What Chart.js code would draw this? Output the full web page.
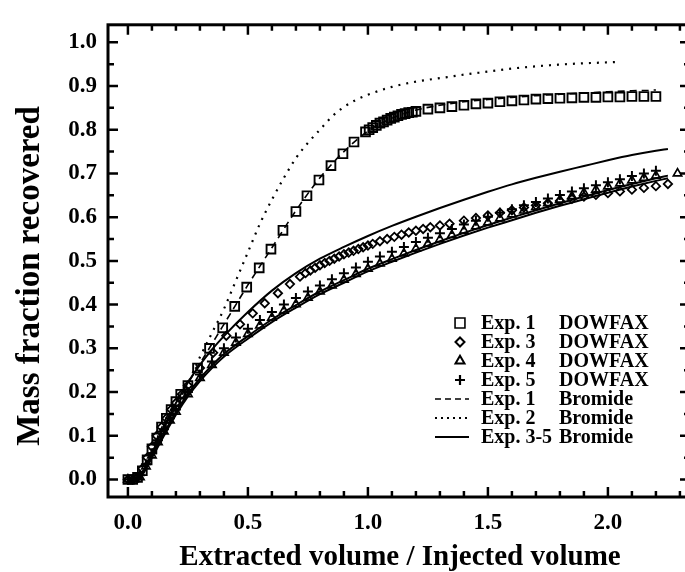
<!DOCTYPE html>
<html><head><meta charset="utf-8">
<script src="https://cdn.jsdelivr.net/npm/chart.js@4/dist/chart.umd.min.js"></script>
<style>
html,body{margin:0;padding:0;background:#fff;overflow:hidden;}
#wrap{position:relative;width:700px;height:572px;}
</style></head><body>
<div id="wrap"><canvas id="c" width="700" height="572"></canvas></div>
<script>
// ---- tick labels ----
const xTickValues = [0.0, 0.5, 1.0, 1.5, 2.0];
const yTickValues = [0.0, 0.1, 0.2, 0.3, 0.4, 0.5, 0.6, 0.7, 0.8, 0.9, 1.0];
const xTitle = 'Extracted volume / Injected volume';
const yTitle = 'Mass fraction recovered';

// ---- Bromide curves ----
const x2B = [0,0.05,0.1,0.15,0.2,0.25,0.3,0.35,0.4,0.45,0.5,0.55,0.6,0.65,0.7,0.75,0.8,0.85,0.9,0.95,1.0,1.1,1.2,1.3,1.4,1.5,1.6,1.7,1.8,1.9,2.0,2.05];
const y2B = [0,0.01,0.06,0.11,0.165,0.22,0.28,0.335,0.39,0.455,0.52,0.585,0.64,0.69,0.735,0.77,0.80,0.83,0.852,0.868,0.88,0.898,0.91,0.918,0.926,0.933,0.94,0.945,0.949,0.952,0.954,0.955];

const x1B = [0,0.05,0.1,0.15,0.2,0.25,0.3,0.35,0.4,0.45,0.5,0.6,0.7,0.8,0.9,1.0,1.1,1.2,1.3,1.4,1.5,1.6,1.7,1.8,1.9,2.0,2.1,2.2];
const y1B = [0,0.01,0.065,0.13,0.18,0.22,0.265,0.31,0.355,0.40,0.445,0.53,0.615,0.69,0.75,0.797,0.826,0.845,0.856,0.864,0.869,0.874,0.878,0.881,0.884,0.887,0.889,0.891];

const x35B = [0,0.05,0.1,0.15,0.2,0.25,0.3,0.35,0.4,0.5,0.6,0.7,0.8,0.9,1.0,1.1,1.2,1.3,1.4,1.5,1.6,1.7,1.8,1.9,2.0,2.1,2.2,2.25];
const y3B = [0,0.008,0.06,0.12,0.175,0.222,0.262,0.297,0.328,0.383,0.432,0.472,0.505,0.532,0.557,0.58,0.601,0.621,0.64,0.658,0.675,0.69,0.704,0.717,0.73,0.742,0.752,0.756];
const y4B = [0,0.005,0.05,0.1,0.148,0.19,0.225,0.255,0.281,0.322,0.36,0.393,0.424,0.45,0.476,0.498,0.519,0.539,0.558,0.576,0.593,0.61,0.626,0.641,0.656,0.67,0.683,0.689];
const y5B = [0,0.006,0.055,0.106,0.154,0.196,0.231,0.261,0.287,0.328,0.366,0.399,0.43,0.456,0.482,0.504,0.525,0.545,0.564,0.582,0.599,0.616,0.632,0.647,0.662,0.676,0.689,0.695];

// ---- DOWFAX measurements ----
const x1D = [0,0.02,0.04,0.06,0.08,0.1,0.12,0.14,0.16,0.18,0.2,0.22,0.25,0.29,0.34,0.395,0.445,0.495,0.547,0.596,0.646,0.7,0.746,0.796,0.846,0.896,0.942,0.99,1.005,1.02,1.035,1.05,1.065,1.08,1.095,1.11,1.125,1.14,1.155,1.17,1.185,1.2,1.25,1.3,1.35,1.4,1.45,1.5,1.55,1.6,1.65,1.7,1.75,1.8,1.85,1.9,1.95,2.0,2.05,2.1,2.15,2.2];
const y1D = [0,0,0.005,0.02,0.045,0.07,0.095,0.12,0.14,0.16,0.178,0.195,0.215,0.255,0.3,0.347,0.396,0.44,0.484,0.527,0.57,0.613,0.649,0.685,0.718,0.745,0.772,0.795,0.8,0.805,0.81,0.815,0.818,0.822,0.826,0.829,0.832,0.835,0.837,0.839,0.84,0.842,0.847,0.85,0.853,0.856,0.859,0.861,0.864,0.866,0.868,0.87,0.871,0.872,0.873,0.874,0.874,0.875,0.875,0.876,0.876,0.876];

const x3D = [0,0.02,0.04,0.06,0.08,0.1,0.12,0.14,0.16,0.18,0.2,0.225,0.25,0.3,0.355,0.41,0.467,0.52,0.57,0.625,0.675,0.717,0.74,0.76,0.78,0.8,0.82,0.84,0.86,0.88,0.9,0.92,0.94,0.96,0.98,1.0,1.02,1.05,1.08,1.11,1.14,1.17,1.2,1.23,1.26,1.3,1.34,1.4,1.45,1.5,1.55,1.6,1.65,1.7,1.75,1.8,1.85,1.9,1.95,2.0,2.05,2.1,2.15,2.2,2.25];
const y3D = [0,0,0.005,0.025,0.05,0.075,0.1,0.12,0.14,0.16,0.175,0.195,0.215,0.255,0.29,0.329,0.355,0.38,0.403,0.426,0.447,0.464,0.472,0.478,0.484,0.49,0.495,0.5,0.505,0.51,0.515,0.519,0.523,0.527,0.531,0.535,0.539,0.545,0.55,0.555,0.56,0.565,0.569,0.573,0.577,0.581,0.585,0.592,0.598,0.604,0.61,0.616,0.622,0.627,0.632,0.637,0.642,0.647,0.651,0.655,0.659,0.663,0.667,0.671,0.676];

const x4D = [0,0.025,0.05,0.075,0.1,0.125,0.15,0.175,0.2,0.25,0.3,0.35,0.4,0.45,0.5,0.55,0.6,0.65,0.7,0.75,0.8,0.85,0.9,0.95,1.0,1.05,1.1,1.15,1.2,1.25,1.3,1.35,1.4,1.45,1.5,1.55,1.6,1.65,1.7,1.75,1.8,1.85,1.9,1.95,2.0,2.05,2.1,2.15,2.2,2.29];
const y4D = [0,0,0.005,0.03,0.055,0.085,0.11,0.135,0.155,0.195,0.232,0.262,0.29,0.313,0.333,0.352,0.37,0.386,0.401,0.416,0.43,0.444,0.457,0.47,0.482,0.494,0.505,0.517,0.528,0.539,0.549,0.559,0.569,0.579,0.588,0.597,0.606,0.615,0.623,0.632,0.64,0.648,0.656,0.663,0.67,0.677,0.684,0.69,0.695,0.7];

const x5D = [0,0.025,0.05,0.075,0.1,0.125,0.15,0.175,0.2,0.25,0.3,0.35,0.4,0.45,0.5,0.55,0.6,0.65,0.7,0.75,0.8,0.85,0.9,0.95,1.0,1.05,1.1,1.15,1.2,1.25,1.3,1.35,1.4,1.45,1.5,1.55,1.6,1.65,1.7,1.75,1.8,1.85,1.9,1.95,2.0,2.05,2.1,2.15,2.2];
const y5D = [0,0,0.01,0.035,0.06,0.09,0.115,0.14,0.16,0.2,0.24,0.27,0.3,0.325,0.345,0.365,0.383,0.4,0.415,0.43,0.444,0.458,0.472,0.485,0.498,0.51,0.521,0.532,0.543,0.553,0.563,0.573,0.583,0.592,0.601,0.61,0.618,0.627,0.635,0.643,0.651,0.659,0.666,0.673,0.68,0.687,0.694,0.7,0.706];

// ---- legend ----
const legendExp = ['Exp. 1','Exp. 3','Exp. 4','Exp. 5','Exp. 1','Exp. 2','Exp. 3-5'];
const legendTracer = ['DOWFAX','DOWFAX','DOWFAX','DOWFAX','Bromide','Bromide','Bromide'];

const pts = (xs, ys) => xs.map((x, i) => ({x: x, y: ys[i]}));
const SERIF = "'Liberation Serif','Times New Roman',serif";

const lineDs = (label, xs, ys, dash, width) => ({
  label, data: pts(xs, ys), showLine: true, pointRadius: 0, borderColor: '#000',
  borderWidth: width, borderDash: dash, cubicInterpolationMode: 'monotone', fill: false
});
const markDs = (label, xs, ys, style, r, bw) => ({
  label, data: pts(xs, ys), showLine: false, pointStyle: style, pointRadius: r,
  pointBorderWidth: bw, pointBorderColor: '#000', pointBackgroundColor: 'rgba(0,0,0,0)',
  borderColor: '#000', backgroundColor: 'rgba(0,0,0,0)'
});

const datasets = [
  lineDs('Exp. 2 Bromide', x2B, y2B, [2, 6], 2.2),
  lineDs('Exp. 1 Bromide', x1B, y1B, [7, 5], 1.6),
  lineDs('Exp. 3 Bromide', x35B, y3B, [], 2),
  lineDs('Exp. 4 Bromide', x35B, y4B, [], 2),
  lineDs('Exp. 5 Bromide', x35B, y5B, [], 2),
  markDs('Exp. 1 DOWFAX', x1D, y1D, 'rect', 6.2, 1.9),
  markDs('Exp. 3 DOWFAX', x3D, y3D, 'rectRot', 4.2, 1.8),
  markDs('Exp. 4 DOWFAX', x4D, y4D, 'triangle', 4.8, 1.7),
  markDs('Exp. 5 DOWFAX', x5D, y5D, 'cross', 5, 2)
];

const legendStyles = [
  {type:'pt', style:'rect', r:7, bw:1.6},
  {type:'pt', style:'rectRot', r:4.5, bw:2},
  {type:'pt', style:'triangle', r:5.2, bw:2},
  {type:'pt', style:'cross', r:5, bw:2.2},
  {type:'ln', dash:[6,4], w:1.6},
  {type:'ln', dash:[2,4], w:2},
  {type:'ln', dash:[], w:2}
];

const framePlugin = {
  id: 'frame',
  afterDraw(chart) {
    const {ctx, chartArea: a, scales} = chart;
    const xs = scales.x, ys = scales.y;
    ctx.save();
    ctx.strokeStyle = '#000';
    ctx.lineCap = 'butt';
    ctx.lineWidth = 2.5;
    for (let k = 0; k <= 23; k++) {
      const v = k / 10;
      const px = xs.getPixelForValue(v);
      const len = (k % 5 === 0) ? 10 : 6;
      ctx.beginPath();
      ctx.moveTo(px, a.bottom); ctx.lineTo(px, a.bottom - len);
      ctx.moveTo(px, a.top); ctx.lineTo(px, a.top + len);
      ctx.stroke();
    }
    for (let k = 0; k <= 20; k++) {
      const v = k / 20;
      const py = ys.getPixelForValue(v);
      const len = (k % 2 === 0) ? 10 : 6;
      ctx.beginPath();
      ctx.moveTo(a.left, py); ctx.lineTo(a.left + len, py);
      ctx.moveTo(a.right, py); ctx.lineTo(a.right - len, py);
      ctx.stroke();
    }
    ctx.lineWidth = 3;
    ctx.strokeRect(a.left, a.top, a.right - a.left, a.bottom - a.top);

    ctx.fillStyle = '#000';
    ctx.textAlign = 'center';
    ctx.textBaseline = 'middle';
    ctx.font = 'bold 29px ' + SERIF;
    ctx.fillText(xTitle, 400, 558);
    ctx.save();
    ctx.translate(30, 276);
    ctx.rotate(-Math.PI / 2);
    ctx.font = 'bold 33px ' + SERIF;
    ctx.fillText(yTitle, 0, 0);
    ctx.restore();

    const rowY0 = 323, rowH = 19;
    ctx.font = 'bold 20px ' + SERIF;
    ctx.textAlign = 'left';
    for (let i = 0; i < legendExp.length; i++) {
      const y = rowY0 + i * rowH;
      const st = legendStyles[i];
      ctx.strokeStyle = '#000';
      ctx.fillStyle = 'rgba(0,0,0,0)';
      if (st.type === 'pt') {
        ctx.lineWidth = st.bw;
        Chart.helpers.drawPoint(ctx, {pointStyle: st.style, radius: st.r, borderWidth: st.bw, rotation: 0}, 460, y);
      } else {
        ctx.lineWidth = st.w;
        ctx.setLineDash(st.dash);
        ctx.beginPath(); ctx.moveTo(435, y); ctx.lineTo(469, y); ctx.stroke();
        ctx.setLineDash([]);
      }
      ctx.fillStyle = '#000';
      ctx.fillText(legendExp[i], 481, y + 1);
      ctx.fillText(legendTracer[i], 559, y + 1);
    }
    ctx.restore();
  }
};

new Chart(document.getElementById('c'), {
  type: 'scatter',
  data: {datasets},
  plugins: [framePlugin],
  options: {
    responsive: false,
    animation: false,
    devicePixelRatio: 1,
    layout: {padding: {top: 17, right: 10, left: 0, bottom: 0}},
    plugins: {legend: {display: false}, tooltip: {enabled: false}, title: {display: false}},
    scales: {
      x: {
        type: 'linear', position: 'bottom', min: -0.083, max: 2.342,
        grid: {display: false, drawTicks: false}, border: {display: false},
        afterBuildTicks: s => { s.ticks = xTickValues.map(v => ({value: v})); },
        afterFit: s => { s.height = 75; },
        ticks: {color: '#000', padding: 12, maxRotation: 0, autoSkip: false,
          font: {family: SERIF, size: 23, weight: 'bold'},
          callback: v => Number(v).toFixed(1)}
      },
      y: {
        type: 'linear', position: 'left', min: -0.04, max: 1.04,
        grid: {display: false, drawTicks: false}, border: {display: false},
        afterBuildTicks: s => { s.ticks = yTickValues.map(v => ({value: v})); },
        afterFit: s => { s.width = 108; },
        ticks: {color: '#000', padding: 11, autoSkip: false,
          font: {family: SERIF, size: 23, weight: 'bold'},
          callback: v => Number(v).toFixed(1)}
      }
    }
  }
});
</script>
</body></html>
